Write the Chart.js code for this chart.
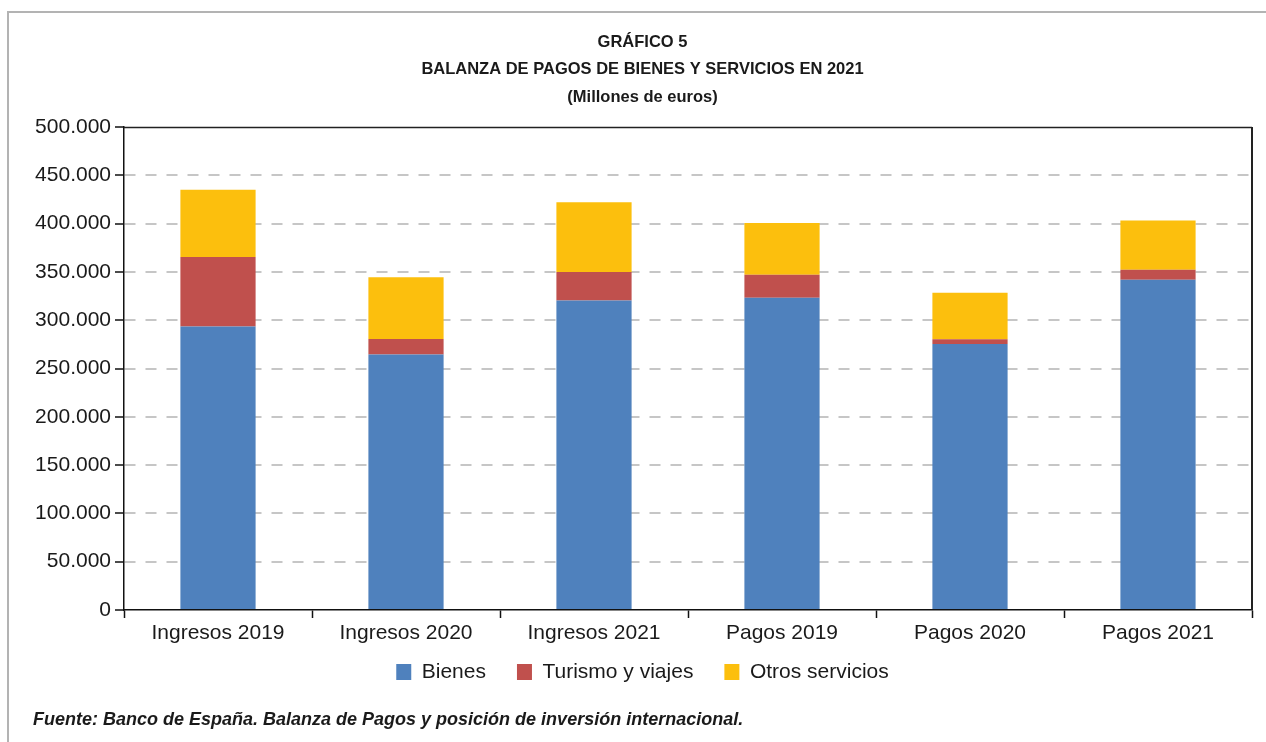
<!DOCTYPE html>
<html><head><meta charset="utf-8">
<script src="https://cdn.jsdelivr.net/npm/chart.js@4.4.0/dist/chart.umd.min.js"></script>
<style>
html,body{margin:0;padding:0;background:#fff;overflow:hidden;}
#frame{position:absolute;left:7px;top:11px;width:1259px;height:731px;border-top:2px solid #b3b3b3;border-left:2px solid #b3b3b3;}
#wrap{position:absolute;left:0;top:0;width:1266px;height:742px;}
</style></head><body>
<div id="frame"></div>
<div id="wrap"><canvas id="c" width="1266" height="742"></canvas></div>
<script>
const categories = ['Ingresos 2019','Ingresos 2020','Ingresos 2021','Pagos 2019','Pagos 2020','Pagos 2021'];
const bienes  = [293500, 264500, 320500, 323300, 275400, 342000];
const turismo = [72000, 16000, 29500, 23800, 5000, 10300];
const otros   = [69500, 64000, 72000, 53500, 48000, 51000];
const seriesNames = ['Bienes','Turismo y viajes','Otros servicios'];
const yTickLabels = ['0','50.000','100.000','150.000','200.000','250.000','300.000','350.000','400.000','450.000','500.000'];
const titleLines = ['GRÁFICO 5','BALANZA DE PAGOS DE BIENES Y SERVICIOS EN 2021','(Millones de euros)'];
const sourceText = 'Fuente: Banco de España. Balanza de Pagos y posición de inversión internacional.';

const FONT = '"Liberation Sans", Arial, Helvetica, sans-serif';
const TXT = '#1a1a1a';
Chart.defaults.font.family = FONT;
Chart.defaults.color = TXT;

const frameBorder = {
  id: 'frameBorder',
  afterDraw(chart) {
    const {ctx, chartArea: a} = chart;
    ctx.save();
    ctx.strokeStyle = '#222';
    ctx.lineWidth = 1.5;
    ctx.beginPath();
    ctx.moveTo(a.left, a.top + 0.5);
    ctx.lineTo(a.right, a.top + 0.5);
    ctx.stroke();
    ctx.lineWidth = 2;
    ctx.beginPath();
    ctx.moveTo(a.right, a.top);
    ctx.lineTo(a.right, a.bottom);
    ctx.stroke();
    ctx.restore();
  }
};

// nudge the legend row upward into its own empty top padding
const legendShift = {
  id: 'legendShift',
  afterLayout(chart) {
    const lg = chart.legend;
    if (lg) { lg.top -= 15.5; lg.bottom -= 15.5; }
  }
};

new Chart(document.getElementById('c'), {
  type: 'bar',
  data: {
    labels: categories,
    datasets: [
      {label: seriesNames[0], data: bienes,  backgroundColor: '#4f81bd'},
      {label: seriesNames[1], data: turismo, backgroundColor: '#c0504d'},
      {label: seriesNames[2], data: otros,   backgroundColor: '#fcbf0d'}
    ]
  },
  options: {
    responsive: false,
    animation: false,
    devicePixelRatio: 1,
    layout: {padding: {left: 33, right: 14, top: 0, bottom: 0}},
    datasets: {bar: {categoryPercentage: 1, barPercentage: 0.4}},
    scales: {
      x: {
        stacked: true,
        offset: true,
        grid: {display: true, drawOnChartArea: false, offset: true, tickLength: 8, tickColor: '#111', tickWidth: 1.5},
        border: {display: true, color: '#111', width: 1.5},
        ticks: {font: {size: 21}, color: TXT, padding: 3},
        afterFit(s) { s.height = 36; }
      },
      y: {
        stacked: true,
        min: 0, max: 500000,
        ticks: {stepSize: 50000, font: {size: 21}, color: TXT, padding: 4,
          callback: (v, i) => yTickLabels[i]},
        grid: {
          color: ctx => (ctx.tick && (ctx.tick.value === 0 || ctx.tick.value === 500000)) ? 'rgba(0,0,0,0)' : '#c6c6c6',
          lineWidth: 2, tickLength: 9, tickColor: '#111', tickWidth: 1.5, tickBorderDash: []
        },
        border: {display: true, color: '#111', width: 1.5, dash: [11, 10]},
        afterFit(s) { s.width = 91; }
      }
    },
    plugins: {
      legend: {
        position: 'bottom',
        labels: {boxWidth: 15, boxHeight: 16, padding: 31, font: {size: 21}, color: TXT}
      },
      title: {
        display: true,
        text: titleLines,
        font: {size: 16.5, weight: 'bold', lineHeight: 27.5 / 16.5},
        color: TXT,
        padding: {top: 28.25, bottom: 16.25}
      },
      subtitle: {
        display: true,
        position: 'bottom',
        align: 'start',
        text: sourceText,
        font: {size: 18, weight: 'bold', style: 'italic', lineHeight: 19.2 / 18},
        color: TXT,
        padding: {top: 2.4, bottom: 12.4}
      },
      tooltip: {enabled: false}
    }
  },
  plugins: [frameBorder, legendShift]
});
</script>
</body></html>
